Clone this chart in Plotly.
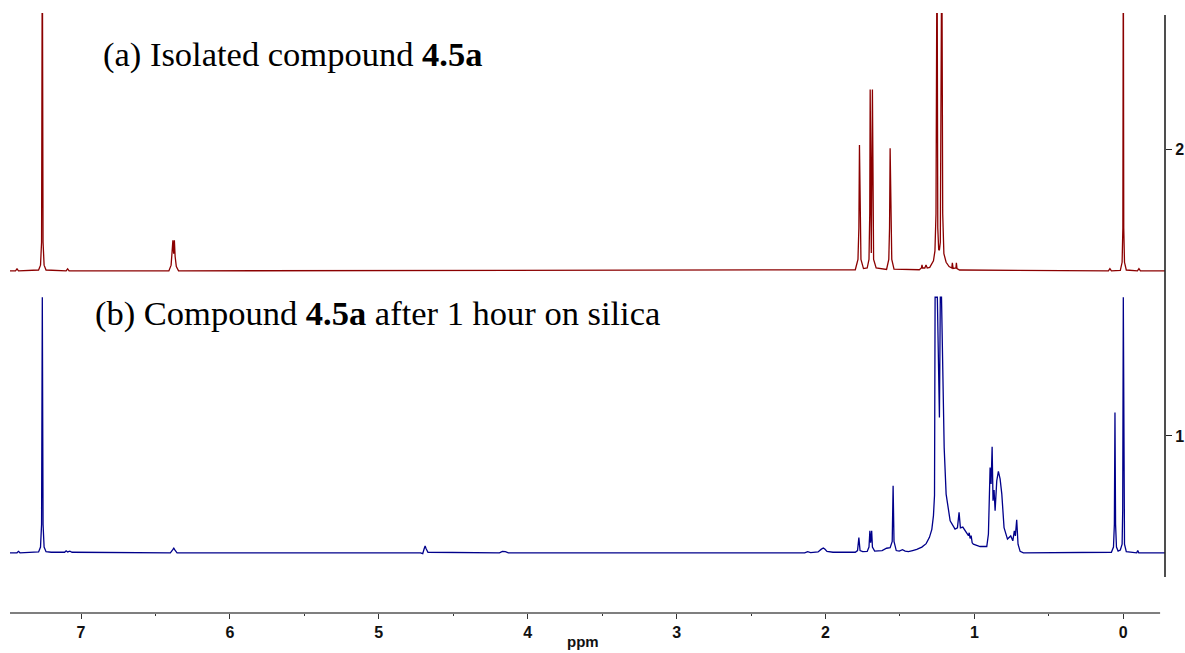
import plotly.graph_objects as go

# ---------------- data ----------------
# Spectrum (a): isolated compound 4.5a  -- ppm and intensity above its baseline (axis units)
red_ppm = [7.477, 7.44, 7.43, 7.42, 7.285, 7.272, 7.265, 7.26, 7.255, 7.248, 7.235,
           7.10, 7.09, 7.08,
           6.41, 6.395, 6.388, 6.383, 6.378, 6.373, 6.368, 6.36, 6.345,
           1.80, 1.782, 1.776, 1.772, 1.768, 1.762, 1.745,
           1.72, 1.708, 1.703, 1.700, 1.6925, 1.685, 1.682, 1.677, 1.66,
           1.59, 1.575, 1.570, 1.566, 1.561, 1.555, 1.54,
           1.37, 1.356, 1.352, 1.348, 1.333, 1.325, 1.317, 1.30, 1.285, 1.275,
           1.265, 1.258, 1.251, 1.246, 1.240, 1.235, 1.229, 1.224, 1.219, 1.213,
           1.205, 1.19, 1.17, 1.152, 1.148, 1.143, 1.124, 1.121, 1.117, 1.10,
           0.10, 0.09, 0.08, 0.02, 0.008, 0.003, 0.0, -0.003, -0.008, -0.02,
           -0.095, -0.105, -0.115, -0.28]
red_int = [0.0, 0.0, 0.007, 0.0, 0.003, 0.02, 0.1, 1.2, 0.1, 0.02, 0.003,
           0.0, 0.007, 0.0,
           0.0, 0.02, 0.07, 0.107, 0.06, 0.107, 0.05, 0.015, 0.0,
           0.004, 0.04, 0.15, 0.439, 0.15, 0.04, 0.008,
           0.01, 0.04, 0.2, 0.633, 0.062, 0.633, 0.2, 0.04, 0.01,
           0.005, 0.04, 0.15, 0.428, 0.15, 0.04, 0.006,
           0.004, 0.01, 0.021, 0.01, 0.01, 0.021, 0.01, 0.012, 0.028, 0.035,
           0.07, 0.2, 1.2, 0.15, 0.075, 0.072, 0.1, 0.5, 1.2, 0.2,
           0.06, 0.03, 0.015, 0.01, 0.028, 0.008, 0.01, 0.028, 0.008, 0.003,
           0.0, 0.008, 0.0, 0.002, 0.03, 0.15, 1.2, 0.15, 0.03, 0.003,
           0.0, 0.008, 0.0, 0.0]

# Spectrum (b): compound 4.5a after 1 hour on silica
blue_ppm = [7.477, 7.43, 7.42, 7.41, 7.285, 7.272, 7.265, 7.26, 7.255, 7.248, 7.235,
            7.20, 7.11, 7.10, 7.09, 7.075, 7.06,
            6.40, 6.385, 6.377, 6.37, 6.355,
            4.72, 4.705, 4.695, 4.689, 4.683, 4.67,
            4.19, 4.17, 4.15, 4.13,
            2.14, 2.12, 2.10, 2.05, 2.03, 2.015, 2.005, 1.99, 1.95,
            1.80, 1.785, 1.776, 1.768, 1.75,
            1.72, 1.708, 1.702, 1.697, 1.690, 1.685, 1.67,
            1.62, 1.59, 1.566, 1.552, 1.546, 1.540, 1.525,
            1.505, 1.483, 1.465, 1.443, 1.415, 1.387, 1.353, 1.324, 1.302, 1.286,
            1.275, 1.268, 1.264, 1.249, 1.235, 1.229, 1.221, 1.216, 1.210, 1.203,
            1.190, 1.163, 1.130, 1.114, 1.103, 1.094, 1.078, 1.051, 1.040, 1.035,
            1.029, 1.022, 1.015, 1.007, 0.962, 0.917, 0.906,
            0.8946, 0.888, 0.881, 0.875, 0.868, 0.861, 0.850, 0.839, 0.8275, 0.816,
            0.801, 0.778, 0.756, 0.742, 0.732, 0.725, 0.716, 0.707, 0.693, 0.671,
            0.08, 0.066, 0.060, 0.056, 0.052, 0.046, 0.035,
            0.02, 0.008, 0.004, 0.0, -0.004, -0.008, -0.02,
            -0.09, -0.097, -0.104, -0.28]
blue_int = [0.0, 0.0, 0.005, 0.0, 0.003, 0.02, 0.1, 0.892, 0.1, 0.02, 0.004,
            0.002, 0.002, 0.007, 0.003, 0.006, 0.002,
            0.0, 0.01, 0.016, 0.01, 0.0,
            0.0, -0.003, 0.015, 0.024, 0.015, 0.002,
            0.0, 0.005, 0.004, 0.0,
            0.0, 0.004, 0.001, 0.003, 0.012, 0.017, 0.013, 0.005, 0.002,
            0.002, 0.008, 0.053, 0.008, 0.004,
            0.005, 0.02, 0.077, 0.035, 0.077, 0.02, 0.006,
            0.008, 0.016, 0.018, 0.04, 0.234, 0.04, 0.008,
            0.006, 0.011, 0.006, 0.004, 0.008, 0.012, 0.02, 0.032, 0.054, 0.082,
            0.13, 0.2, 0.892, 0.892, 0.472, 0.892, 0.892, 0.75, 0.55, 0.367,
            0.205, 0.112, 0.083, 0.087, 0.141, 0.087, 0.09, 0.065, 0.06, 0.07,
            0.05, 0.06, 0.035, 0.03, 0.022, 0.022, 0.065,
            0.298, 0.240, 0.370, 0.182, 0.219, 0.147, 0.251, 0.284, 0.258, 0.205,
            0.088, 0.048, 0.059, 0.042, 0.077, 0.059, 0.115, 0.030, 0.005, 0.0,
            0.002, 0.02, 0.1, 0.49, 0.1, 0.02, 0.006,
            0.01, 0.03, 0.15, 0.892, 0.15, 0.03, 0.004,
            0.0, 0.008, 0.0, 0.0]

x_ticks = [0, 1, 2, 3, 4, 5, 6, 7]
y_ticks = [1, 2]
labels = ["(a) Isolated compound <b>4.5a</b>",
          "(b) Compound <b>4.5a</b> after 1 hour on silica"]

# ---------------- layout constants ----------------
RED_BASE = 1.576
BLUE_BASE = 0.592
X_RANGE = [7.477, -0.280]
Y_RANGE = [0.382, 2.476]
TICK_FONT = dict(family="Liberation Sans Narrow, Arial Narrow, Liberation Sans, Arial",
                 size=16, color="#111", weight="bold")

fig = go.Figure()
fig.add_trace(go.Scatter(x=red_ppm, y=[RED_BASE + v for v in red_int], mode="lines",
                         line=dict(color="#8B0000", width=1.3), hoverinfo="skip"))
fig.add_trace(go.Scatter(x=blue_ppm, y=[BLUE_BASE + v for v in blue_int], mode="lines",
                         line=dict(color="#00008B", width=1.3), hoverinfo="skip"))

fig.update_layout(
    width=1185, height=653,
    margin=dict(l=10, r=20, t=13, b=40, autoexpand=False),
    paper_bgcolor="white", plot_bgcolor="white",
    showlegend=False,
    xaxis=dict(range=X_RANGE, showgrid=False, zeroline=False, showline=False,
               automargin=False,
               tickmode="array", tickvals=x_ticks, ticks="outside", ticklen=5,
               tickwidth=1.3, tickcolor="#333",
               minor=dict(tickmode="linear", tick0=0.5, dtick=1, ticks="outside",
                          ticklen=2, tickwidth=1.3, tickcolor="#333", showgrid=False),
               tickfont=TICK_FONT),
    yaxis=dict(range=Y_RANGE, side="right", showgrid=False, zeroline=False,
               showline=False, automargin=False,
               tickmode="array", tickvals=y_ticks, ticks="outside",
               ticklen=6, tickwidth=1.3, tickcolor="#222", tickfont=TICK_FONT),
)

# axis lines
fig.add_shape(type="line", xref="x", yref="paper", x0=X_RANGE[0], x1=-0.247, y0=0, y1=0,
              line=dict(color="#555", width=1.6))
fig.add_shape(type="line", xref="paper", yref="y", x0=1, x1=1, y0=0.508, y1=2.469,
              line=dict(color="#222", width=1.6))

# text
fig.add_annotation(text=labels[0], xref="paper", yref="paper", x=0.0788, y=0.93,
                   xanchor="left", yanchor="middle", showarrow=False,
                   font=dict(family="Liberation Serif, Times New Roman, serif",
                             size=34.5, color="black"))
fig.add_annotation(text=labels[1], xref="paper", yref="paper", x=0.0719, y=0.5,
                   xanchor="left", yanchor="middle", showarrow=False,
                   font=dict(family="Liberation Serif, Times New Roman, serif",
                             size=34.5, color="black"))
fig.add_annotation(text="<b>ppm</b>", xref="x", yref="paper", x=3.626, y=-0.047,
                   xanchor="center", yanchor="middle", showarrow=False,
                   font=dict(family="Liberation Sans, Arial", size=15, color="#111"))

fig.write_html("out.html", config={"displayModeBar": False},
               post_script="document.body.style.margin='0';document.body.style.overflow='hidden';")
